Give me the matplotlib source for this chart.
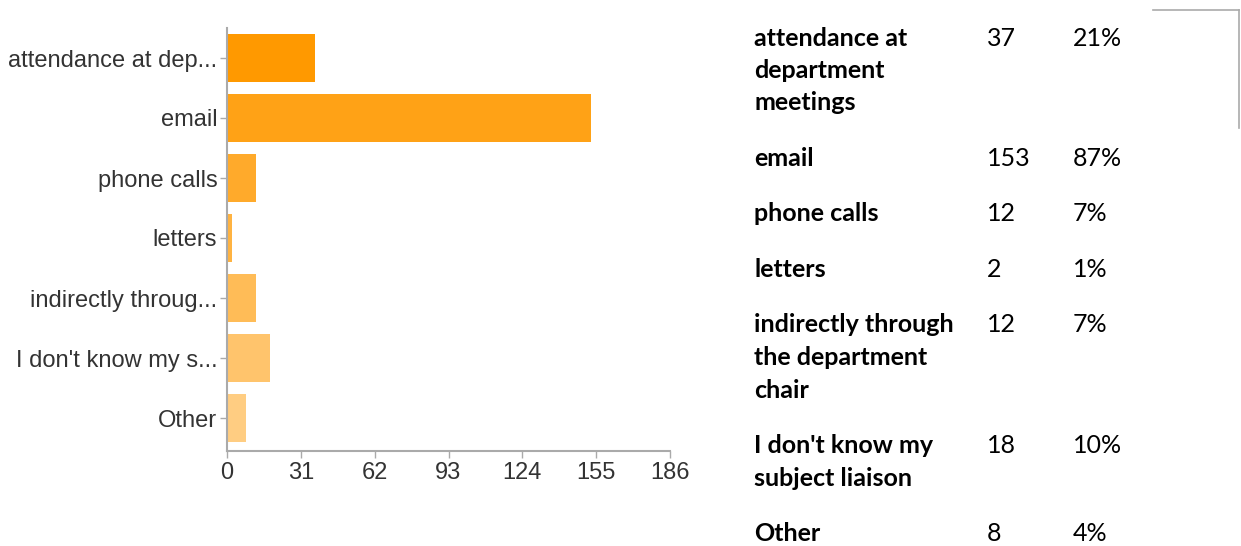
import numpy as np
import matplotlib.pyplot as plt
from matplotlib.lines import Line2D

# Survey answers: how do you hear from your subject liaison?
short_labels = ['attendance at dep...', 'email', 'phone calls', 'letters',
                'indirectly throug...', "I don't know my s...", 'Other']
full_labels = ['attendance at\ndepartment\nmeetings', 'email', 'phone calls', 'letters',
               'indirectly through\nthe department\nchair', "I don't know my\nsubject liaison", 'Other']
counts = [37, 153, 12, 2, 12, 18, 8]
percents = ['21%', '87%', '7%', '1%', '7%', '10%', '4%']
x_ticks = [0, 31, 62, 93, 124, 155, 186]

W, H = 1241, 546
fig = plt.figure(figsize=(W / 100, H / 100), dpi=100)

# bar chart on the left, in pixel-based placement
left, right, top, bottom = 227, 670, 28, 451
ax = fig.add_axes([left / W, 1 - bottom / H, (right - left) / W, (bottom - top) / H])

# orange fading toward white, one step per bar
base = np.array([1.0, 0.6, 0.0])
colors = [base + (1 - base) * (0.085 * i) for i in range(len(counts))]

y = np.arange(len(counts))
ax.barh(y, counts, height=0.8, color=colors, edgecolor='none')
ax.set_ylim(len(counts) - 0.5 + 0.05, -0.5)
ax.set_xlim(0, 186)
ax.set_yticks(y)
ax.set_yticklabels(short_labels)
ax.set_xticks(x_ticks)

for s in ['top', 'right']:
    ax.spines[s].set_visible(False)
for s in ['left', 'bottom']:
    ax.spines[s].set_color('#aaaaaa')
    ax.spines[s].set_linewidth(1.5)
ax.tick_params(axis='y', length=5, width=1, color='#aaaaaa', pad=2,
               labelsize=17, labelcolor='#333333')
ax.tick_params(axis='x', length=5, width=1, color='#aaaaaa', pad=3,
               labelsize=17, labelcolor='#333333')
for lab in ax.get_xticklabels() + ax.get_yticklabels():
    lab.set_fontfamily('Liberation Sans')

# table of answers on the right, one text per line
line_h = 32.5
gap = 23
row_y = 38
for name, n, pct in zip(full_labels, counts, percents):
    lines = name.split('\n')
    for k, part in enumerate(lines):
        fig.text(754 / W, 1 - (row_y + k * line_h) / H, part, fontsize=18,
                 fontweight='bold', fontfamily='Lato', va='center', ha='left',
                 color='black')
    fig.text(987 / W, 1 - row_y / H, str(n), fontsize=18, fontfamily='Lato',
             va='center', ha='left', color='black')
    fig.text(1073 / W, 1 - row_y / H, pct, fontsize=18, fontfamily='Lato',
             va='center', ha='left', color='black')
    row_y += len(lines) * line_h + gap

# thin frame corner at the top right
fig.add_artist(Line2D([1153 / W, 1239 / W], [1 - 10 / H, 1 - 10 / H],
                      color='#aaaaaa', lw=1.2))
fig.add_artist(Line2D([1239 / W, 1239 / W], [1 - 10 / H, 1 - 128 / H],
                      color='#aaaaaa', lw=1.2))

fig.savefig('out.png', dpi=100)
